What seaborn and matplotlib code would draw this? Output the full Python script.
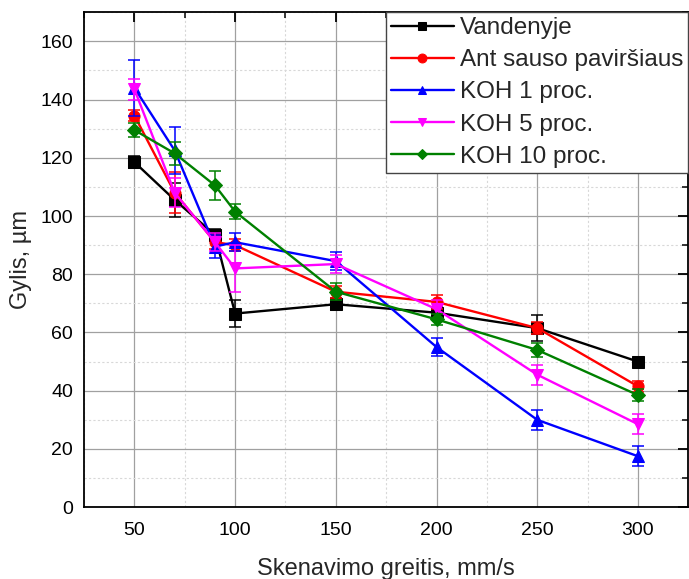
import numpy as np
import pandas as pd
import seaborn as sns
import matplotlib.pyplot as plt
from matplotlib.ticker import MultipleLocator

# Data
speeds = [50, 70, 90, 100, 150, 200, 250, 300]
series_names = ['Vandenyje', 'Ant sauso paviršiaus', 'KOH 1 proc.', 'KOH 5 proc.', 'KOH 10 proc.']

vandenyje = [118.5, 105.5, 93.5, 66.5, 69.7, 66.8, 61.5, 50.0]
vandenyje_err = [2.0, 6.0, 2.0, 4.5, 2.0, 2.0, 4.5, 1.0]
sausas = [134.5, 108.0, 91.0, 90.0, 74.0, 70.5, 61.5, 41.5]
sausas_err = [2.0, 7.0, 2.5, 2.0, 2.0, 2.5, 2.0, 2.0]
koh1 = [144.0, 122.5, 89.5, 91.0, 84.5, 55.0, 30.0, 17.5]
koh1_err = [9.5, 8.0, 4.0, 3.0, 3.0, 3.0, 3.5, 3.5]
koh5 = [143.5, 108.0, 91.0, 82.0, 83.5, 68.0, 45.5, 28.5]
koh5_err = [3.5, 5.0, 3.0, 8.0, 3.0, 3.0, 3.5, 3.5]
koh10 = [129.5, 121.5, 110.5, 101.5, 74.0, 64.5, 54.0, 38.5]
koh10_err = [2.5, 4.0, 5.0, 2.5, 3.0, 2.0, 2.5, 2.0]

values = [vandenyje, sausas, koh1, koh5, koh10]
errors = [vandenyje_err, sausas_err, koh1_err, koh5_err, koh10_err]
colors = ['black', 'red', 'blue', 'magenta', 'green']
markers = ['s', 'o', '^', 'v', 'D']

sns.set_style('white')
plt.rcParams['font.family'] = ['Liberation Sans', 'DejaVu Sans']

fig = plt.figure(figsize=(6.89, 5.79), dpi=100)
ax = fig.add_axes([0.122, 0.124, 0.877, 0.855])

# grid first so it sits underneath
ax.set_axisbelow(True)
ax.xaxis.set_major_locator(MultipleLocator(50))
ax.xaxis.set_minor_locator(MultipleLocator(25))
ax.yaxis.set_major_locator(MultipleLocator(20))
ax.yaxis.set_minor_locator(MultipleLocator(10))
ax.grid(which='major', color='#a0a0a0', linewidth=0.9, linestyle='-')
ax.grid(which='minor', color='#d8d8d8', linewidth=0.8, linestyle=(0, (2, 2)))

for name, vals, err, c, m in zip(series_names, values, errors, colors, markers):
    ms = 7 if m == 'D' else 8
    sns.lineplot(x=speeds, y=vals, color=c, marker=m, markersize=ms,
                 markeredgecolor=c, linewidth=1.7, label=name, ax=ax)
    ax.errorbar(speeds, vals, yerr=err, fmt='none', ecolor=c,
                elinewidth=1.1, capsize=4.5, capthick=1.1)

ax.set_xlim(25, 325)
ax.set_ylim(0, 170)

for s in ax.spines.values():
    s.set_color('black')
    s.set_linewidth(1.3)

ax.tick_params(which='both', direction='in', top=True, right=True, colors='black')
ax.tick_params(which='major', length=7, width=1.3, labelsize=14)
ax.tick_params(which='minor', length=4, width=1.1)
ax.tick_params(axis='x', which='major', pad=11)
ax.tick_params(axis='y', which='major', pad=8)

ax.set_xlabel('Skenavimo greitis, mm/s', fontsize=17, labelpad=13)
ax.set_ylabel('Gylis, µm', fontsize=17, labelpad=6)

leg = ax.legend(loc='upper right', fontsize=17.5, frameon=True, fancybox=False,
                framealpha=1, edgecolor='#444444', borderpad=0.2,
                labelspacing=0.42, handlelength=2.6, handletextpad=0.25,
                borderaxespad=0.0, markerscale=0.8)
leg.get_frame().set_linewidth(1.0)

fig.savefig('out.png', dpi=100)
